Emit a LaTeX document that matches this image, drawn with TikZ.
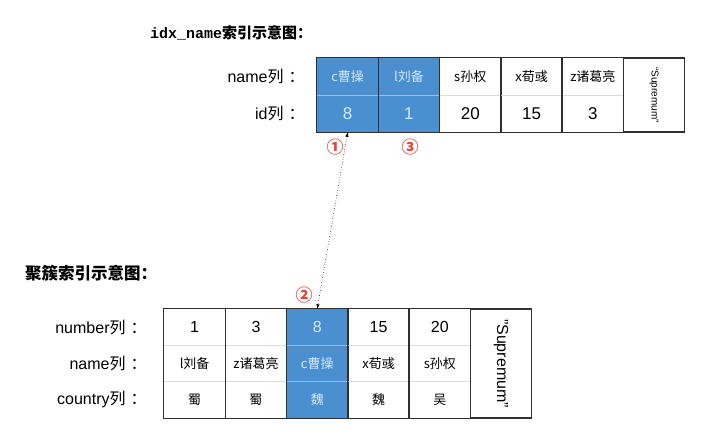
\documentclass[tikz,border=0pt]{standalone}
\usepackage{fontspec}
\usetikzlibrary{positioning}
\setmainfont{Liberation Sans}
\setmonofont{Liberation Mono}
\newfontfamily\cjk{Noto Sans CJK SC}
\definecolor{cellblue}{RGB}{74,143,207}
\definecolor{celltext}{RGB}{212,232,250}
\definecolor{framegray}{RGB}{48,48,48}
\definecolor{rulegray}{RGB}{205,205,205}
\definecolor{markred}{RGB}{232,64,58}
\newcommand{\zh}[1]{{\cjk #1}}
\newcommand{\fs}[1]{\fontsize{#1}{#1}\selectfont}

\begin{document}
\begin{tikzpicture}[x=1pt,y=-1pt,
    cell/.style={minimum width=61.3pt,inner sep=0pt,text=black},
    sel/.style={fill=cellblue,text=celltext},
    plain/.style={},
    colframe/.style={draw=framegray,line width=1.2pt},
    rowrule/.style={draw=rulegray,line width=0.8pt,opacity=.7},
    rowlabel/.style={anchor=east,inner sep=0pt,font=\fs{16}},
    title/.style={anchor=west,inner sep=0pt,font=\fs{15}\bfseries},
    circnum/.style={inner sep=0pt,text=markred,font=\cjk\fs{17}\bfseries}]
  \useasboundingbox (0,0) rectangle (719,447);
  \def\w{61.3}

  \node[title] (t-title) at (150,33) {\ttfamily idx\_name\cjk 索引示意图：};
  \node[title,font=\fs{16.5}\bfseries] (c-title) at (25,273) {\cjk 聚簇索引示意图：};

  \foreach \i/\n/\d/\s in {1/c曹操/8/sel,2/l刘备/1/sel,3/s孙权/20/plain,4/x荀彧/15/plain,5/z诸葛亮/3/plain}
  {
    \node[cell,\s,minimum height=37pt,font=\cjk\fs{13}] (t-n\i) at ({317+(\i-0.5)*\w},76.5) {\n};
    \node[cell,\s,minimum height=37pt,font=\fs{17}] (t-d\i) at ({317+(\i-0.5)*\w},113.5) {\d};
  }
  \foreach \i in {1,...,5}
  {
    \draw[rowrule] (t-n\i.south west) -- (t-n\i.south east);
    \draw[colframe] (t-n\i.north west) rectangle (t-d\i.south east);
  }
  \node[colframe,rotate=-90,minimum width=74pt,minimum height=61.3pt,inner sep=0pt,font=\fs{10}] (t-sup) at ({317+5.5*\w},95) {“Supremum”};

  \foreach \i/\u/\n/\c/\s in {1/1/l刘备/蜀/plain,2/3/z诸葛亮/蜀/plain,3/8/c曹操/魏/sel,4/15/x荀彧/魏/plain,5/20/s孙权/吴/plain}
  {
    \node[cell,\s,minimum height=36.3pt,font=\fs{16}] (c-u\i) at ({164+(\i-0.5)*\w},327.2) {\u};
    \node[cell,\s,minimum height=36.3pt,font=\cjk\fs{13}] (c-n\i) at ({164+(\i-0.5)*\w},363.5) {\n};
    \node[cell,\s,minimum height=36.3pt,font=\cjk\fs{13}] (c-c\i) at ({164+(\i-0.5)*\w},399.8) {\c};
  }
  \foreach \i in {1,...,5}
  {
    \draw[rowrule] (c-u\i.south west) -- (c-u\i.south east);
    \draw[rowrule] (c-n\i.south west) -- (c-n\i.south east);
    \draw[colframe] (c-u\i.north west) rectangle (c-c\i.south east);
  }
  \node[colframe,rotate=-90,minimum width=109pt,minimum height=61.3pt,inner sep=0pt,font=\fs{16}] (c-sup) at ({164+5.5*\w},363.5) {"Supremum"};

  \node[rowlabel,left=12pt of t-n1] (t-lname) {name\zh{列\hspace{5pt}：}};
  \node[rowlabel,left=12pt of t-d1] (t-lid) {id\zh{列\hspace{5pt}：}};
  \node[rowlabel,left=17pt of c-u1] (c-lnum) {number\zh{列\hspace{5pt}：}};
  \node[rowlabel,left=17pt of c-n1] (c-lname) {name\zh{列\hspace{5pt}：}};
  \node[rowlabel,left=17pt of c-c1] (c-lcty) {country\zh{列\hspace{5pt}：}};

  \node[circnum] (m1) at (335,147) {①};
  \node[circnum] (m3) at (410,147) {③};
  \node[circnum] (m2) at (304,295) {②};

  \draw[dotted,<->,>=latex,line width=0.6pt] (t-d1.south) -- (c-u3.north);
\end{tikzpicture}
\end{document}
